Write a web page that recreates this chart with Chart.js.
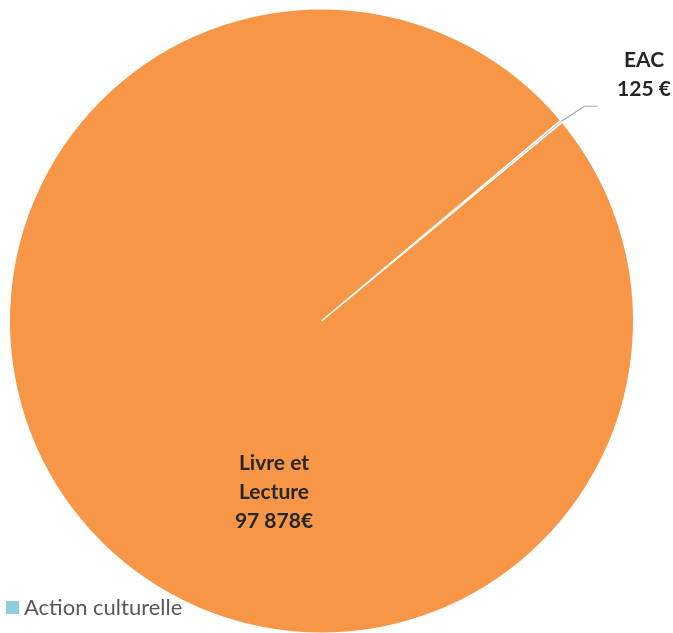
<!DOCTYPE html>
<html>
<head>
<meta charset="utf-8">
<script src="https://cdn.jsdelivr.net/npm/chart.js@4"></script>
<style>
  html, body { margin: 0; padding: 0; background: #fff; overflow: hidden; }
  #wrap { width: 673px; height: 633px; overflow: hidden; position: relative; }
  canvas { display: block; }
</style>
</head>
<body>
<div id="wrap"><canvas id="pie" width="673" height="645"></canvas></div>
<script>
// Data
const categories = ["Action culturelle", "EAC", "Livre et Lecture"];
const amounts = [0, 125, 97878];
const sliceColors = ["#8FCFDD", "#BFBFBF", "#F79646"];
const valueLabels = ["", "125 €", "97 878€"];

// text labels drawn on top of the pie (Excel style)
const labelPlugin = {
  id: "pieLabels",
  afterDraw(chart) {
    const ctx = chart.ctx;
    const meta = chart.getDatasetMeta(0);
    ctx.save();
    ctx.font = "bold 21px Lato";
    ctx.fillStyle = "#262626";
    ctx.textAlign = "center";
    ctx.textBaseline = "middle";

    // EAC label with leader line
    const eac = meta.data[1];
    const mid = (eac.startAngle + eac.endAngle) / 2;
    const ex = eac.x + Math.cos(mid) * eac.outerRadius;
    const ey = eac.y + Math.sin(mid) * eac.outerRadius;
    ctx.strokeStyle = "#A6A6A6";
    ctx.lineWidth = 1.2;
    ctx.beginPath();
    ctx.moveTo(ex, ey);
    ctx.lineTo(ex + 23, ey - 15);
    ctx.lineTo(ex + 36, ey - 15);
    ctx.stroke();
    ctx.fillText(categories[1], 644, 60);
    ctx.fillText(valueLabels[1], 644, 89);

    // Livre et Lecture label
    ctx.fillText("Livre et", 274, 463);
    ctx.fillText("Lecture", 274, 492);
    ctx.fillText(valueLabels[2], 274, 521);

    // legend entry
    ctx.fillStyle = sliceColors[0];
    ctx.fillRect(6, 601, 13, 13);
    ctx.font = "22px Lato";
    ctx.fillStyle = "#595959";
    ctx.textAlign = "left";
    ctx.fillText(categories[0], 24, 608);
    ctx.restore();
  }
};

new Chart("pie", {
  type: "pie",
  data: {
    labels: categories,
    datasets: [
      {
        data: amounts,
        backgroundColor: sliceColors,
        borderColor: "#ffffff",
        borderWidth: 1.5,
      },
    ],
  },
  options: {
    responsive: false,
    animation: false,
    rotation: 50,
    layout: { padding: { left: 8, right: 38, top: 8, bottom: 11 } },
    plugins: {
      legend: { display: false },
      tooltip: { enabled: false },
    },
  },
  plugins: [labelPlugin],
});
</script>
</body>
</html>
